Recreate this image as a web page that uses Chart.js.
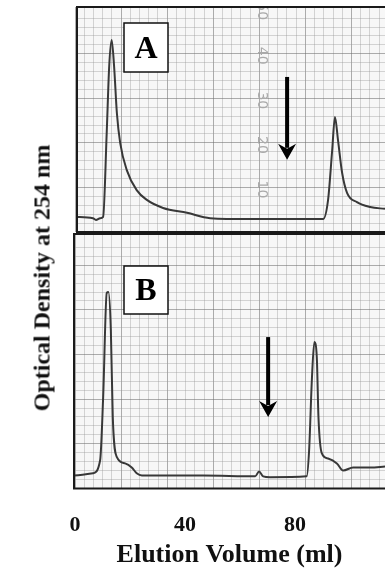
<!DOCTYPE html>
<html>
<head>
<meta charset="utf-8">
<script src="https://cdn.jsdelivr.net/npm/chart.js@4.4.1/dist/chart.umd.min.js"></script>
<style>
  html, body { margin: 0; padding: 0; background: #fff; }
  #wrap { position: relative; width: 385px; height: 569px; overflow: hidden; }
  .box { position: absolute; left: 0; width: 385px; }
  #ytitle {
    position: absolute; left: 42px; top: 278px;
    transform: translate(-50%, -50%) rotate(-90deg);
    white-space: nowrap; font: bold 24px "Liberation Serif", serif; color: #111;
  }
</style>
</head>
<body>
<div id="wrap">
  <div class="box" style="top:0;height:236px"><canvas id="chartA"></canvas></div>
  <div class="box" style="top:230px;height:339px"><canvas id="chartB"></canvas></div>
  <div id="ytitle">Optical Density at 254 nm</div>
</div>
<script>
// Panel A trace (elution volume in ml, chart-paper units)
const volA = [0, 6.5, 7.6, 9.1, 10.2, 11.5, 12.4, 13.3, 14.2, 15.2, 16.4, 18.8, 22.4, 26.1, 32.0, 40.7, 49.1, 63.6, 90.2, 92.0, 93.5, 94.5, 95.6, 97.1, 98.9, 102.5, 107.3, 112.7];
const odA  = [3.4, 3.1, 2.7, 3.1, 3.4, 22.2, 37.1, 43.1, 37.1, 26.7, 20.0, 13.9, 9.4, 7.2, 5.4, 4.3, 3.1, 2.9, 2.9, 7.2, 18.4, 25.8, 20.7, 13.3, 8.8, 6.7, 5.6, 5.2];

// Panel B trace
const volB = [-0.4, 6.5, 9.1, 10.2, 11.5, 12.1, 13.0, 13.7, 15.2, 18.2, 20.6, 22.4, 24.3, 46.6, 65.5, 66.9, 68.4, 70.9, 84.2, 85.1, 86.1, 87.0, 87.9, 88.5, 89.7, 92.0, 95.2, 97.5, 101.1, 107.3, 112.7];
const odB  = [2.9, 3.4, 6.3, 20.4, 43.8, 44.0, 35.5, 16.0, 7.0, 5.6, 4.7, 3.4, 2.9, 2.9, 2.7, 3.8, 2.7, 2.5, 2.7, 8.5, 24.3, 32.8, 29.4, 16.0, 7.9, 6.7, 5.6, 4.0, 4.7, 4.7, 4.9];

const xTickLabels = [0, 40, 80];
const paperLabels = [10, 20, 30, 40, 50];

const GRID_X = 3.35;   // ml per small square
const GRID_Y = 2;      // units per small square

function pts(xs, ys) {
  return xs.map((x, i) => ({ x: x, y: ys[i] }));
}

function gridColor(c) {
  return c.index % 5 === 0 ? 'rgba(110,110,110,0.55)' : 'rgba(150,150,150,0.38)';
}

function gridTicks(scale) {
  const t = [];
  for (let v = 0; v <= scale.max; v += GRID_X) t.push({ value: v });
  scale.ticks = t;
}

// grid background, borders, arrow, letter box and paper numbers
const panelDecor = {
  id: 'panelDecor',
  beforeDraw(chart, args, opts) {
    const a = chart.chartArea, ctx = chart.ctx;
    ctx.save();
    ctx.fillStyle = '#f7f7f7';
    ctx.fillRect(a.left, a.top, a.right - a.left, a.bottom - a.top);
    ctx.restore();
  },
  afterDraw(chart, args, opts) {
    const a = chart.chartArea, ctx = chart.ctx;
    const xs = chart.scales.x, ys = chart.scales.y;
    ctx.save();

    // paper scale numbers (rotated)
    if (opts.paper) {
      ctx.save();
      ctx.beginPath();
      ctx.rect(a.left, a.top, a.right - a.left, a.bottom - a.top);
      ctx.clip();
      ctx.fillStyle = '#a9a9a9';
      ctx.font = '14px "DejaVu Sans", sans-serif';
      ctx.textAlign = 'center';
      ctx.textBaseline = 'middle';
      opts.paper.values.forEach(v => {
        ctx.save();
        ctx.translate(xs.getPixelForValue(opts.paper.x), ys.getPixelForValue(v) + 2);
        ctx.rotate(Math.PI / 2);
        ctx.fillText(String(v), 0, 0);
        ctx.restore();
      });
      ctx.restore();
    }

    // frame: top, left, bottom
    ctx.strokeStyle = '#1a1a1a';
    ctx.lineWidth = 2;
    ctx.beginPath();
    ctx.moveTo(a.right + 2, a.top);
    ctx.lineTo(a.left, a.top);
    ctx.lineTo(a.left, a.bottom);
    ctx.lineTo(a.right + 2, a.bottom);
    ctx.stroke();

    // arrow
    const ar = opts.arrow;
    const ax = xs.getPixelForValue(ar.x);
    const y1 = ys.getPixelForValue(ar.from);
    const y2 = ys.getPixelForValue(ar.to);
    ctx.fillStyle = '#000';
    ctx.fillRect(ax - 2, y1, 4, y2 - y1 - 12);
    ctx.beginPath();
    ctx.moveTo(ax - 9, y2 - 16);
    ctx.lineTo(ax, y2 - 11);
    ctx.lineTo(ax + 9, y2 - 16);
    ctx.lineTo(ax, y2);
    ctx.closePath();
    ctx.fill();

    // letter box
    const b = opts.box;
    ctx.fillStyle = '#fff';
    ctx.fillRect(a.left + b.dx, a.top + b.dy, b.w, b.h);
    ctx.strokeStyle = '#111';
    ctx.lineWidth = 1.5;
    ctx.strokeRect(a.left + b.dx, a.top + b.dy, b.w, b.h);
    ctx.fillStyle = '#000';
    ctx.font = 'bold 32px "Liberation Serif", serif';
    ctx.textAlign = 'center';
    ctx.textBaseline = 'middle';
    ctx.fillText(b.text, a.left + b.dx + b.w / 2, a.top + b.dy + b.h / 2 + 2);

    ctx.restore();
  }
};

const lineStyle = {
  borderColor: '#383838',
  borderWidth: 2,
  pointRadius: 0,
  fill: false,
  cubicInterpolationMode: 'monotone'
};

const gridAxis = {
  type: 'linear',
  grid: { color: gridColor, lineWidth: 1, drawTicks: false },
  border: { display: false },
  ticks: { display: false }
};

// Panel A
const chartA = new Chart(document.getElementById('chartA').getContext('2d'), {
  type: 'line',
  data: { datasets: [Object.assign({ data: pts(volA, odA) }, lineStyle)] },
  options: {
    responsive: true,
    maintainAspectRatio: false,
    animation: false,
    layout: { padding: { left: 77, top: 7, right: 0, bottom: 4 } },
    plugins: {
      legend: { display: false },
      tooltip: { enabled: false },
      panelDecor: {
        box: { dx: 47, dy: 16, w: 44, h: 49, text: 'A' },
        arrow: { x: 77.1, from: 34.8, to: 16.2 },
        paper: { x: 68, values: paperLabels }
      }
    },
    scales: {
      x: Object.assign({}, gridAxis, { min: 0.7, max: 112.7, afterBuildTicks: gridTicks }),
      y: Object.assign({}, gridAxis, { min: 0, max: 50.5, ticks: { display: false, stepSize: GRID_Y } })
    }
  },
  plugins: [panelDecor]
});

// Panel B
const chartB = new Chart(document.getElementById('chartB').getContext('2d'), {
  type: 'line',
  data: { datasets: [Object.assign({ data: pts(volB, odB) }, lineStyle)] },
  options: {
    responsive: true,
    maintainAspectRatio: false,
    animation: false,
    layout: { padding: { left: 74, top: 4, right: 0, bottom: -2 } },
    plugins: {
      legend: { display: false },
      tooltip: { enabled: false },
      panelDecor: {
        box: { dx: 50, dy: 32, w: 44, h: 48, text: 'B' },
        arrow: { x: 70.2, from: 33.9, to: 16.0 }
      }
    },
    scales: {
      x: {
        type: 'linear',
        min: -0.4, max: 112.7,
        afterBuildTicks: s => { s.ticks = xTickLabels.map(v => ({ value: v })); },
        grid: { display: false, drawTicks: false },
        border: { display: false },
        ticks: {
          color: '#111', padding: 24, maxRotation: 0,
          font: { family: '"Liberation Serif", serif', size: 22, weight: 'bold' }
        },
        title: {
          display: true, text: 'Elution Volume (ml)', color: '#111',
          padding: { top: -23, bottom: 0 },
          font: { family: '"Liberation Serif", serif', size: 26, weight: 'bold' }
        }
      },
      xg: Object.assign({}, gridAxis, { position: 'bottom', min: -0.4, max: 112.7, afterBuildTicks: gridTicks }),
      y: Object.assign({}, gridAxis, { min: 0, max: 57, ticks: { display: false, stepSize: GRID_Y } })
    }
  },
  plugins: [panelDecor]
});
</script>
</body>
</html>
